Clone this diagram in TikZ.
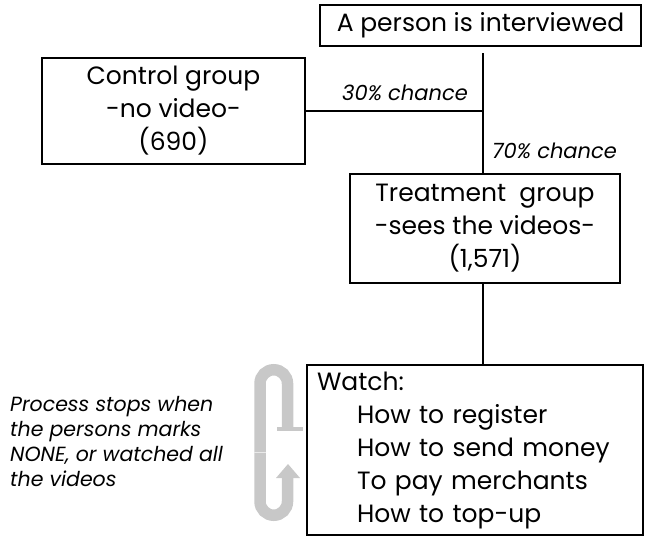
\documentclass[tikz,border=0pt]{standalone}
\usepackage{fontspec}
\setmainfont{Poppins}
\usepackage{tikz}
\usetikzlibrary{calc}

\definecolor{loopgray}{RGB}{200,200,200}
\tikzset{
  box/.style={draw, line width=2.6pt, align=center, inner sep=0pt,
    font=\fontsize{25}{33}\selectfont},
  link/.style={line width=1.2pt},
  chance/.style={font=\fontsize{21}{25}\selectfont\itshape, inner sep=0pt},
}

\begin{document}
\begin{tikzpicture}[x=1pt,y=-1pt]
    \useasboundingbox (0,0) rectangle (645,539);
    \node[box, minimum width=321pt, minimum height=41pt] (interview) at (480.5,25.5) {A person is interviewed};
    \node[box, minimum width=263pt, minimum height=106pt] (control) at (173.5,111) {Control group\\-no video-\\(690)};
    \node[box, minimum width=270pt, minimum height=109pt] (treat) at (485,228.5) {Treatment\ \ group\\-sees the videos-\\(1,571)};
    \node[box, minimum width=336pt, minimum height=170pt, text width=316pt, align=left] (watch) at (475,450)
      {Watch:\\\hspace*{40pt}How to register\\\hspace*{40pt}How to send money\\\hspace*{40pt}To pay merchants\\\hspace*{40pt}How to top-up};
    \coordinate (split) at (483,111);
    \draw[link, shorten <=6pt] (interview.south -| split) to (treat.north -| split);
    \draw[link] (control.east) to (split);
    \draw[link] (treat.south -| split) to (watch.north -| split);
    \node[chance, anchor=base east] (low) at (468,100) {30\% chance};
    \node[chance, anchor=base west] (high) at (492,158) {70\% chance};
    % loop back arrow
    \draw[loopgray, line width=11.5pt] (287.5,429) -- (287.5,383.5) arc[start angle=0, end angle=-180, radius=13.75] -- (260,452);
    \draw[loopgray, line width=11.5pt] (260,452) -- (260,501.5) arc[start angle=180, end angle=0, radius=13.75] -- (287.5,477);
    \draw[white!60!loopgray, line width=0.8pt] (254.25,452) -- (265.75,452);
    \fill[loopgray] (277,427) rectangle (303,431);
    \fill[loopgray] (276,478) -- (300,478) -- (288,464) -- cycle;
    \node[chance, anchor=north west, align=left, font=\fontsize{20.5}{25}\selectfont\itshape] (note) at (10,396)
      {Process stops when\\the persons marks\\NONE, or watched all\\the videos};
\end{tikzpicture}
\end{document}
